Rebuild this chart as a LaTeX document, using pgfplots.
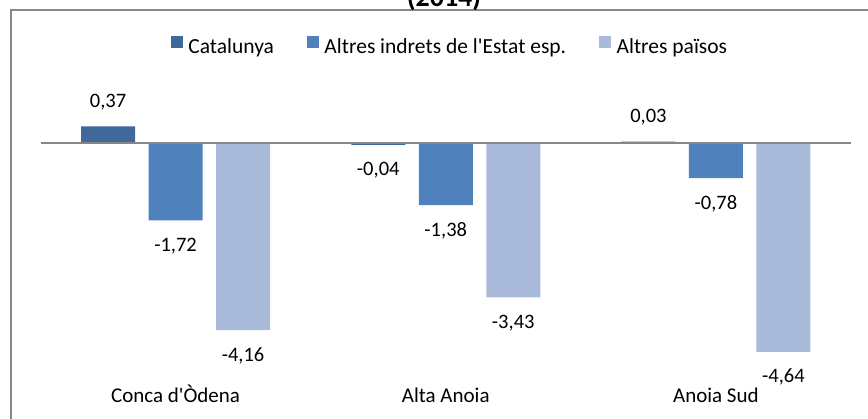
\documentclass[border=0pt]{standalone}
\usepackage{pgfplots}
\pgfplotsset{compat=1.18}
\usepackage{pgfplotstable}
\usepackage{fontspec}
\setmainfont{Carlito}[Ligatures=TeXOff]
\definecolor{cat}{HTML}{41689B}
\definecolor{esp}{HTML}{4F81BD}
\definecolor{alt}{HTML}{AABADA}
\definecolor{framec}{HTML}{878787}
\definecolor{zeroc}{HTML}{868686}
\pgfplotstableread{
x y l
0 0.37 0,37
1 -0.04 -0,04
2 0.03 0,03
}\datacat
\pgfplotstableread{
x y l
0 -1.72 -1,72
1 -1.38 -1,38
2 -0.78 -0,78
}\dataesp
\pgfplotstableread{
x y l
0 -4.16 -4,16
1 -3.43 -3,43
2 -4.64 -4,64
}\dataalt
\begin{document}
\fontsize{21}{24}\selectfont
\begin{tikzpicture}[x=1pt,y=1pt]
\begin{axis}[
  at={(40.5pt,50pt)}, anchor=south west, scale only axis,
  width=810.5pt, height=292.5pt,
  xmin=-0.5, xmax=2.5, ymin=-5, ymax=1.5,
  ybar=13.5pt, bar width=54pt,
  axis line style={draw=none}, tick style={draw=none},
  ytick=\empty, xtick={0,1,2},
  xticklabels={Conca d'Òdena, Alta Anoia, Anoia Sud},
  xticklabel style={anchor=base, inner sep=0pt, yshift=-30pt, font=\fontsize{21}{24}\selectfont},
  point meta=explicit symbolic,
  nodes near coords,
  visualization depends on={y \as \rawy},
  every node near coord/.append style={font=\fontsize{20.5}{24}\selectfont, inner sep=0pt, anchor=center, yshift={ifthenelse(\rawy>0,24.5,-25.5)}},
  legend columns=3,
  legend style={at={(axis description cs:0.504,1.10)}, anchor=center, draw=none, fill=none,
    font=\fontsize{21.5}{24}\selectfont, nodes={inner sep=0pt},
    /tikz/every odd column/.append style={column sep=5.5pt},
    /tikz/every even column/.append style={column sep=33pt}},
  legend image code/.code={\fill[#1] (0pt,0pt) rectangle (12pt,12pt);},
]
\addplot[fill=cat, draw=none] table[x=x, y=y, meta=l] {\datacat};
\addplot[fill=esp, draw=none] table[x=x, y=y, meta=l] {\dataesp};
\addplot[fill=alt, draw=none] table[x=x, y=y, meta=l] {\dataalt};
\legend{Catalunya, Altres indrets de l'Estat esp., Altres països}
\draw[zeroc, line width=1.5pt] (axis cs:-0.5,0) -- (axis cs:2.5,0);
\end{axis}
\draw[overlay, framec, line width=2pt] (11,-20) -- (11,408) -- (900,408);
\node[overlay, font=\fontsize{28}{32}\selectfont\bfseries, anchor=base] at (444,411.5) {(2014)};
\path (0,0) rectangle (868,418);
\end{tikzpicture}
\end{document}
